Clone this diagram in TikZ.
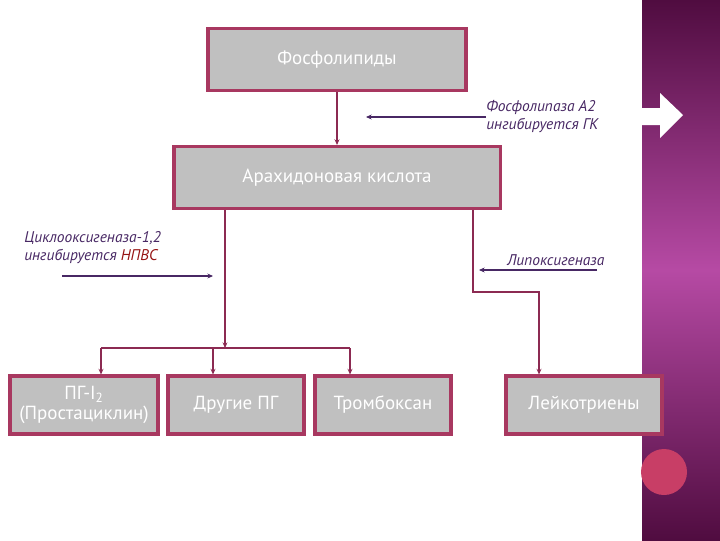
\documentclass[tikz,border=0pt]{standalone}
\usepackage{fontspec}
\setmainfont{PT Sans}
\definecolor{BoxGray}{RGB}{192, 192, 192}
\definecolor{Crimson}{RGB}{168, 56, 96}
\definecolor{Maroon}{RGB}{140, 42, 82}
\definecolor{Plum}{RGB}{72, 40, 100}
\definecolor{DarkRed}{RGB}{150, 20, 20}
\definecolor{StripDark}{RGB}{80, 12, 64}
\definecolor{StripLight}{RGB}{182, 74, 164}
\definecolor{Dot}{RGB}{200, 62, 102}
\usetikzlibrary{arrows.meta, positioning}

\begin{document}
\begin{tikzpicture}[x=0.025cm, y=-0.025cm,
        box/.style={rectangle, draw=Crimson, line width=2.2pt, fill=BoxGray, minimum height=1.55cm, align=center, text=white, font=\fontsize{13.5}{14.5}\selectfont},
        note/.style={anchor=west, align=left, inner sep=0pt, text=Plum, font=\itshape\fontsize{11}{12.8}\selectfont},
        flow/.style={-{Stealth[length=4pt, width=3.5pt]}, Maroon, line width=0.9pt},
        link/.style={Maroon, line width=0.9pt},
        inhib/.style={-{Stealth[length=4pt, width=3.5pt]}, Plum, line width=1.4pt}
    ]
        \useasboundingbox (0,0) rectangle (720,540);
        % side strip
        \shade[top color=StripDark, bottom color=StripDark, middle color=StripLight] (642,0) rectangle (720,540);
        \fill[white] (640,108) -- (660,108) -- (660,93) -- (683,115) -- (660,138) -- (660,125) -- (640,125) -- cycle;
        \fill[Dot] (664,472) circle (23);
        % boxes
        \node[box, minimum width=6.45cm] (fosfo) at (337,59.5) {Фосфолипиды};
        \node[box, minimum width=8.15cm] (arach) at (337,177.5) {Арахидоновая кислота};
        \node[box, minimum width=3.7cm, minimum height=1.45cm] (pgi) at (84,405) {ПГ-I\textsubscript{2}\\(Простациклин)};
        \node[box, minimum width=3.4cm, minimum height=1.45cm] (other) at (236,405) {Другие ПГ};
        \node[box, minimum width=3.4cm, minimum height=1.45cm] (tromb) at (383,405) {Тромбоксан};
        \node[box, minimum width=3.9cm, minimum height=1.45cm] (leuko) at (584,405) {Лейкотриены};
        % enzymes
        \node[note] (pla) at (486,117) {Фосфолипаза А2\\ингибируется ГК};
        \node[note] (cox) at (24,248) {Циклооксигеназа-1,2\\ингибируется \textcolor{DarkRed}{НПВС}};
        \node[note] (lox) at (507,260) {Липоксигеназа};
        \coordinate (plaend) at (366,117);
        \coordinate (coxstart) at (62,276);
        \coordinate (coxend) at (213,276);
        \coordinate (loxstart) at (597,270);
        \coordinate (loxend) at (479,270);
        \coordinate (split) at (225,348);
        \coordinate (bend) at (473,292);
        \coordinate (col1) at (101,348);
        \coordinate (col2) at (213,348);
        \coordinate (col3) at (350,348);
        \coordinate (col4) at (539,292);
        % connectors
        \draw[flow] (fosfo) -- (arach);
        \draw[inhib] (pla.west) -- (plaend);
        \draw[inhib] (coxstart) -- (coxend);
        \draw[inhib] (loxstart) -- (loxend);
        \draw[flow] (arach.south -| split) -- (split);
        \draw[link] (col1) -- (col3);
        \draw[flow] (col1) -- (col1 |- pgi.north);
        \draw[flow] (col2) -- (col2 |- other.north);
        \draw[flow] (col3) -- (col3 |- tromb.north);
        \draw[flow] (arach.south -| bend) -- (bend) -- (col4) -- (col4 |- leuko.north);
    \end{tikzpicture}
\end{document}
